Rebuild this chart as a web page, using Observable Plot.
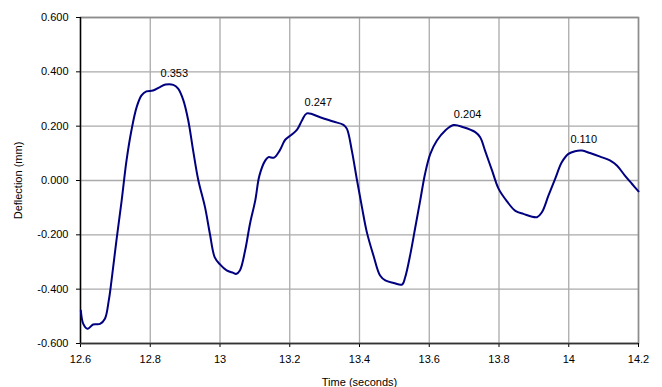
<!DOCTYPE html>
<html>
<head>
<meta charset="utf-8">
<script src="https://cdn.jsdelivr.net/npm/d3@7"></script>
<script src="https://cdn.jsdelivr.net/npm/@observablehq/plot@0.6"></script>
<style>
  html, body { margin: 0; padding: 0; background: #fff; }
  #chart svg { display: block; }
</style>
</head>
<body>
<div id="chart"></div>
<script>
const times = [12.601,12.608,12.620,12.636,12.656,12.670,12.681,12.689,12.703,12.718,12.732,12.746,12.761,12.775,12.789,12.808,12.828,12.844,12.866,12.880,12.895,12.909,12.923,12.938,12.957,12.971,12.985,13.000,13.019,13.038,13.046,13.057,13.072,13.086,13.101,13.113,13.130,13.139,13.155,13.171,13.187,13.206,13.221,13.235,13.249,13.287,13.325,13.354,13.364,13.378,13.393,13.407,13.421,13.440,13.459,13.474,13.498,13.522,13.531,13.546,13.560,13.574,13.588,13.603,13.622,13.646,13.670,13.698,13.732,13.746,13.760,13.780,13.799,13.823,13.847,13.870,13.909,13.923,13.942,13.961,13.980,13.999,14.018,14.038,14.061,14.090,14.118,14.138,14.161,14.181,14.200];
const deflections = [-0.479,-0.528,-0.546,-0.530,-0.528,-0.509,-0.442,-0.368,-0.221,-0.074,0.074,0.184,0.270,0.313,0.328,0.331,0.344,0.353,0.352,0.338,0.295,0.221,0.110,0.000,-0.098,-0.196,-0.283,-0.309,-0.331,-0.340,-0.344,-0.331,-0.258,-0.159,-0.074,0.018,0.074,0.086,0.084,0.110,0.150,0.169,0.187,0.221,0.247,0.233,0.217,0.205,0.190,0.110,0.000,-0.098,-0.190,-0.276,-0.350,-0.368,-0.377,-0.383,-0.356,-0.270,-0.172,-0.074,0.025,0.098,0.147,0.184,0.204,0.196,0.178,0.159,0.110,0.037,-0.031,-0.077,-0.112,-0.123,-0.135,-0.117,-0.055,0.006,0.067,0.098,0.108,0.110,0.101,0.088,0.074,0.055,0.018,-0.012,-0.040];

const peakTimes = [12.869, 13.282, 13.710, 14.043];
const peakValues = [0.353, 0.247, 0.204, 0.110];
const peakLabels = ["0.353", "0.247", "0.204", "0.110"];

const xTicks = [12.6, 12.8, 13, 13.2, 13.4, 13.6, 13.8, 14, 14.2];
const xTickLabels = ["12.6", "12.8", "13", "13.2", "13.4", "13.6", "13.8", "14", "14.2"];
const yTicks = [-0.6, -0.4, -0.2, 0, 0.2, 0.4, 0.6];
const yTickLabels = ["-0.600", "-0.400", "-0.200", "0.000", "0.200", "0.400", "0.600"];

const xTitle = "Time (seconds)";
const yTitle = "Deflection (mm)";

const series = times.map((t, i) => ({t, v: deflections[i]}));
const peaks = peakTimes.map((t, i) => ({t, v: peakValues[i], label: peakLabels[i]}));
const gridXData = xTicks.map(t => ({t}));
const gridYData = yTicks.map(v => ({v}));

const chart = Plot.plot({
  width: 662,
  height: 387,
  marginLeft: 80,
  marginRight: 24,
  marginTop: 17,
  marginBottom: 44,
  style: {fontFamily: "'Liberation Sans', Arial, sans-serif", fontSize: "11px", color: "#000", background: "#fff"},
  x: {domain: [12.6, 14.2]},
  y: {domain: [-0.6, 0.6]},
  marks: [
    Plot.ruleX(gridXData, {x: "t", stroke: "#aaaaaa", strokeWidth: 1.3, strokeOpacity: 1}),
    Plot.ruleY(gridYData, {y: "v", stroke: "#aaaaaa", strokeWidth: 1.3, strokeOpacity: 1}),
    Plot.frame({stroke: "#8c8c8c", strokeWidth: 1.6}),
    Plot.axisX({ticks: xTicks, tickFormat: (d, i) => xTickLabels[i], tickSize: 4, tickPadding: 8, fontSize: 11, label: xTitle, labelAnchor: "center", labelArrow: "none", labelOffset: 42, stroke: "#000"}),
    Plot.axisY({ticks: yTicks, tickFormat: (d, i) => yTickLabels[i], tickSize: 4, tickPadding: 8, fontSize: 11, label: yTitle, labelAnchor: "center", labelArrow: "none", labelOffset: 66, stroke: "#000"}),
    Plot.ruleX([12.6], {stroke: "#000", strokeWidth: 1.3}),
    Plot.ruleY([-0.6], {stroke: "#333", strokeWidth: 1.6}),
    Plot.line(series, {x: "t", y: "v", stroke: "#000080", strokeWidth: 2, curve: "catmull-rom"}),
    Plot.text(peaks, {x: "t", y: "v", text: "label", dy: -11, fontSize: 11, fill: "#000"})
  ]
});
document.getElementById("chart").appendChild(chart);
</script>
</body>
</html>
